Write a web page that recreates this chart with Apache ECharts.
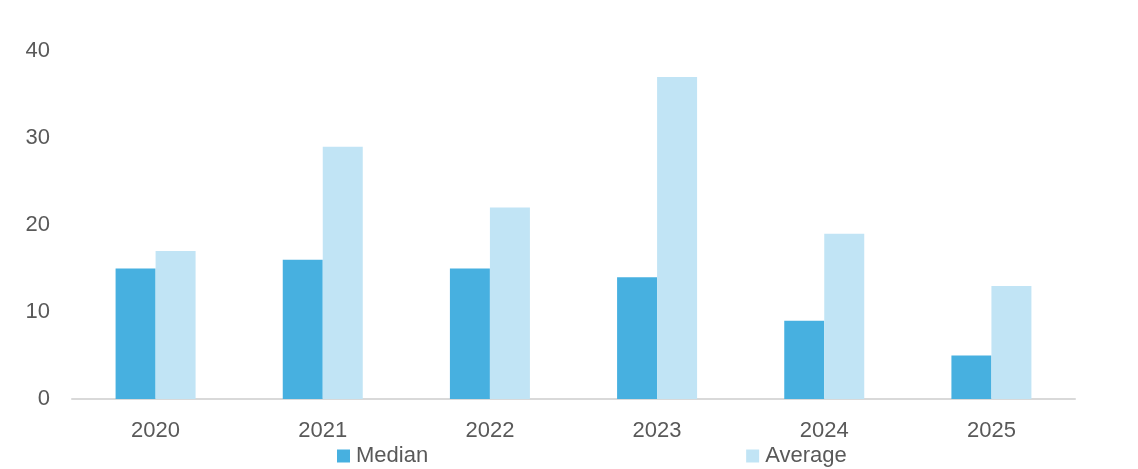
<!DOCTYPE html>
<html>
<head>
<meta charset="utf-8">
<script src="https://cdn.jsdelivr.net/npm/echarts@6/dist/echarts.min.js"></script>
<style>
  html, body { margin: 0; padding: 0; background: #fff; }
  #chart { width: 1138px; height: 469px; }
</style>
</head>
<body>
<div id="chart"></div>
<script>
// data
const years = ['2020', '2021', '2022', '2023', '2024', '2025'];
const median = [15, 16, 15, 14, 9, 5];
const average = [17, 29, 22, 37, 19, 13];

const myChart = echarts.init(document.getElementById('chart'));
const font = 'Liberation Sans';
const option = {
  animation: false,
  color: ['#47b0e0', '#c1e4f5'],
  grid: { left: 72, right: 63, top: 51, bottom: 70 },
  legend: {
    data: ['Median', 'Average'],
    left: 332,
    top: 440,
    padding: 5,
    itemWidth: 13,
    itemHeight: 13,
    itemGap: 318,
    icon: 'rect',
    textStyle: { color: '#595959', fontSize: 22, fontFamily: font, padding: [0, 0, 0, 1] }
  },
  xAxis: {
    type: 'category',
    data: years,
    axisLine: { lineStyle: { color: '#d9d9d9', width: 2 } },
    axisTick: { show: false },
    axisLabel: { color: '#595959', fontSize: 22, fontFamily: font, margin: 21 }
  },
  yAxis: {
    type: 'value',
    min: 0,
    max: 40,
    interval: 10,
    splitLine: { show: false },
    axisLine: { show: false },
    axisTick: { show: false },
    axisLabel: { color: '#595959', fontSize: 22, fontFamily: font, margin: 22 }
  },
  series: [
    { name: 'Median', type: 'bar', data: median, barWidth: 40, barGap: '0%' },
    { name: 'Average', type: 'bar', data: average, barWidth: 40, barGap: '0%' }
  ]
};
myChart.setOption(option);
</script>
</body>
</html>
